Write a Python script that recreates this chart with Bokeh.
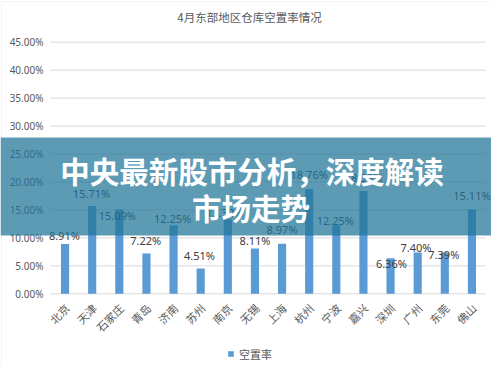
from bokeh.plotting import figure
from bokeh.models import (ColumnDataSource, Range1d, Label, BoxAnnotation, Legend, LegendItem)
from bokeh.core.properties import value
from bokeh.embed import file_html
from bokeh.resources import INLINE
from math import pi

# ---- data ----
cities = ["北京", "天津", "石家庄", "青岛", "济南", "苏州", "南京", "无锡",
          "上海", "杭州", "宁波", "嘉兴", "深圳", "广州", "东莞", "佛山"]
rates = [8.91, 15.71, 15.09, 7.22, 12.25, 4.51, 13.32, 8.11,
         8.97, 18.76, 12.25, 18.38, 6.36, 7.40, 7.39, 15.11]
y_ticks = [0, 5, 10, 15, 20, 25, 30, 35, 40, 45]
y_tick_labels = ["%.2f%%" % t for t in y_ticks]
title_text = "4月东部地区仓库空置率情况"
series_name = "空置率"
banner_lines = ["中央最新股市分析，深度解读", "市场走势"]

# label placement (pixels above the bar top / horizontal nudge) - style only
lab_dy = [8.5, 12.8, -6, 13, 6.5, 13, 7, 8, 14, 14, 4.8, 14, -5.6, 5.2, -2, 13.8]
lab_dx = [-0.7, -0.7, -2, -0.7, -1, -1.3, -3, 0, 0, 0, -1, 0, 0.8, -1.8, -1, 0]

# ---- layout (canvas pixels) ----
W, H = 491, 366
PL, PR, PT, PB = 51.0, 485.0, 41.7, 293.3      # plot-area edges
n = len(cities)
px_per_cat = (PR - PL) / n
y_max = max(y_ticks)
px_per_unit = (PB - PT) / y_max
x_start = -0.5 - PL / px_per_cat
x_end = n - 0.5 + (W - PR) / px_per_cat
y_end = y_max + PT / px_per_unit
y_start = -(H - PB) / px_per_unit

idx = list(range(n))
src = ColumnDataSource(dict(
    x=idx, city=cities, rate=rates,
    label=["%.2f%%" % r for r in rates],
    dy=[-d for d in lab_dy], dx=lab_dx,
))

p = figure(width=W, height=H, x_range=Range1d(x_start, x_end), y_range=Range1d(y_start, y_end),
           x_axis_location=None, y_axis_location=None,
           output_backend="svg", toolbar_location=None,
           min_border=0)
p.outline_line_color = None
p.grid.visible = False
p.background_fill_color = "white"
p.border_fill_color = "white"

# chart border
p.add_layout(BoxAnnotation(left=1, right=W + 6, bottom=-6, top=H - 1,
                           left_units="screen", right_units="screen",
                           top_units="screen", bottom_units="screen",
                           fill_alpha=0, line_color="#d9d9d9", line_width=1, level="underlay"))

# gridlines + axis line
p.segment(x0=-0.5 - 1 / px_per_cat, x1=n - 0.5, y0=y_ticks, y1=y_ticks,
          line_color="#d9d9d9", line_width=1)

# y tick labels
p.text(x=[-0.5] * len(y_ticks), y=y_ticks, text=y_tick_labels, x_offset=-8,
       text_align="right", text_baseline="middle", text_font=value("Noto Sans"),
       text_font_size="10px", text_color="#595959")

# x category labels (rotated)
p.text(x=idx, y=[0] * n, text=cities, angle=pi / 4, x_offset=2, y_offset=12,
       text_align="right", text_baseline="middle", text_font=value("Noto Sans CJK SC"),
       text_font_size="11px", text_color="#595959")

bars = p.vbar(x="x", top="rate", width=0.3, source=src,
              fill_color="#5b9bd5", line_color=None)

p.text(x="x", y="rate", text="label", source=src, x_offset="dx", y_offset="dy",
       text_align="center", text_baseline="middle", text_font=value("Noto Sans"),
       text_font_size="11px", text_color="#404040")

# title
p.add_layout(Label(x=249, y=H - 16.5, x_units="screen", y_units="screen",
                   text=title_text, text_align="center", text_baseline="middle",
                   text_font="Noto Sans CJK SC", text_font_size="11.5px", text_color="#595959"))

# legend
legend = Legend(items=[LegendItem(label=series_name, renderers=[bars])],
                location=(227, H - 361.5), orientation="horizontal",
                padding=0, margin=0, spacing=0, glyph_width=7, glyph_height=7,
                label_standoff=5, label_height=12, label_text_font="Noto Sans CJK SC",
                label_text_font_size="11px", label_text_color="#595959",
                border_line_alpha=0, background_fill_alpha=0)
p.add_layout(legend)

# banner overlay
p.add_layout(BoxAnnotation(left=0, right=W, bottom=H - 235, top=H - 137,
                           left_units="screen", right_units="screen",
                           top_units="screen", bottom_units="screen",
                           fill_color="#1f7498", fill_alpha=0.72, line_alpha=0, level="overlay"))
p.add_layout(Label(x=251.5, y=H - 169, x_units="screen", y_units="screen",
                   text=banner_lines[0], text_align="center", text_baseline="middle",
                   text_font="Noto Sans CJK SC", text_font_size="29.5px", text_font_style="bold",
                   text_color="white", level="overlay"))
p.add_layout(Label(x=250.5, y=H - 206.7, x_units="screen", y_units="screen",
                   text=banner_lines[1], text_align="center", text_baseline="middle",
                   text_font="Noto Sans CJK SC", text_font_size="29.5px", text_font_style="bold",
                   text_color="white", level="overlay"))

open("out.html", "w").write(file_html(p, INLINE))
